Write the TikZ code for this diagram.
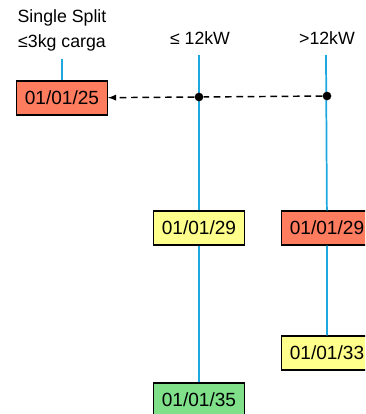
\documentclass[tikz,border=0pt]{standalone}
\usepackage{fontspec}
\setmainfont{Liberation Sans}
\usepackage{xcolor}
\usetikzlibrary{positioning,arrows}
\definecolor{redbox}{HTML}{FF7C5F}
\definecolor{yellowbox}{HTML}{FFFF8C}
\definecolor{greenbox}{HTML}{80E08A}
\definecolor{laneblue}{HTML}{1EA8E0}

\begin{document}
\begin{tikzpicture}[x=0.75pt,y=-0.75pt,
    date/.style={draw,line width=1pt,minimum width=68pt,minimum height=25.5pt,inner sep=0pt,font=\fontsize{14.3}{16}\selectfont},
    head/.style={align=center,inner sep=0pt,font=\fontsize{13.3}{18.75}\selectfont},
    lane/.style={draw=laneblue,line width=1.3pt},
    dot/.style={circle,fill=black,inner sep=0pt,minimum size=6.5pt}]
    \useasboundingbox (0,0) rectangle (365,414);
    \clip (0,0) rectangle (365,414);
    % headings
    \node[head] (single) at (62,30) {Single Split\\≤3kg carga};
    \node[head] (low) at (200,38) {≤ 12kW};
    \node[head] (high) at (327,38) {>12kW};
    \coordinate (singletop) at (62,59);
    \coordinate (lowtop) at (199,55);
    \coordinate (hightop) at (326,55);
    % dates
    \node[date,fill=redbox] (d25) at (62,98) {01/01/25};
    \node[date,fill=yellowbox] (low29) at (199,228) {01/01/29};
    \node[date,fill=redbox] (high29) at (327,228) {01/01/29};
    \node[date,fill=yellowbox] (high33) at (327,353) {01/01/33};
    \node[date,fill=greenbox] (low35) at (199,400) {01/01/35};
    % lanes
    \draw[lane] (singletop) -- (d25);
    \draw[lane] (lowtop) -- (low29) -- (low35);
    \draw[lane] (hightop) -- (high29) -- (high33);
    \node[dot] (lowdot) at (199,97) {};
    \node[dot] (highdot) at (327,96) {};
    \draw[-latex,line width=1.1pt,dash pattern=on 5pt off 3.5pt] (highdot) -- (lowdot) -- (d25);
\end{tikzpicture}
\end{document}
